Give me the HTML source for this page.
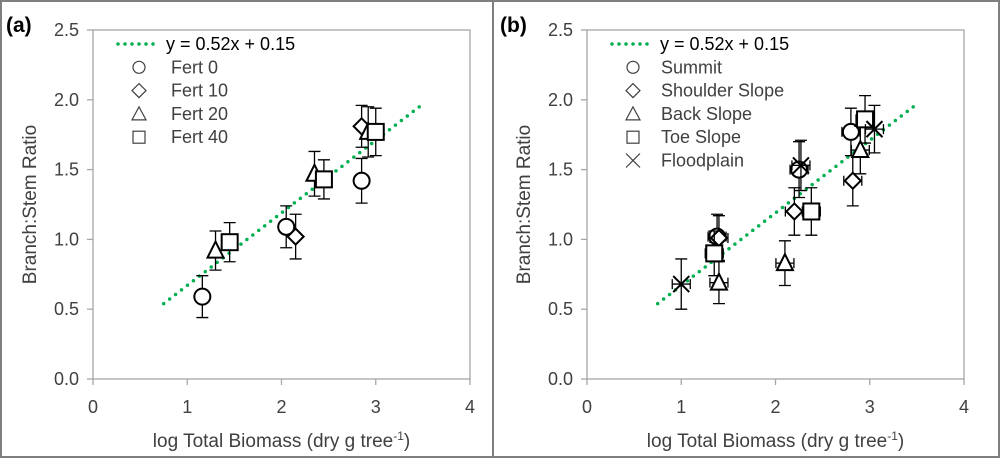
<!DOCTYPE html>
<html><head><meta charset="utf-8"><style>
body{margin:0;background:#fff;}
svg{display:block;font-family:"Liberation Sans",Arial,sans-serif;}
</style></head><body>
<svg id="chart" width="1000" height="458" xmlns="http://www.w3.org/2000/svg">
<rect x="1" y="1" width="998" height="456" fill="#fff" stroke="#7f7f7f" stroke-width="2"/>
<line x1="493" y1="0" x2="493" y2="458" stroke="#7f7f7f" stroke-width="2"/>
</svg>
<script>
const yTicks=[0,0.5,1.0,1.5,2.0,2.5];
const xTicks=[0,1,2,3,4];
const trendX=[0.75,3.47];
const slope=0.52, intercept=0.15;
const aNames=["Fert 0","Fert 10","Fert 20","Fert 40"];
const aShapes=["circle","diamond","triangle","square"];
const aX=[[1.16,2.05,2.85],[2.15,2.85],[1.3,2.35,2.92],[1.45,2.45,3.0]];
const aY=[[0.59,1.09,1.42],[1.02,1.81],[0.92,1.47,1.77],[0.98,1.43,1.77]];
const aErr=[[0.15,0.15,0.16],[0.16,0.15],[0.14,0.16,0.18],[0.14,0.14,0.17]];
const bNames=["Summit","Shoulder Slope","Back Slope","Toe Slope","Floodplain"];
const bShapes=["circle","diamond","triangle","square","x"];
const bX=[[1.38,2.25,2.8],[1.4,2.2,2.82],[1.4,2.1,2.9],[1.35,2.38,2.95],[1.0,2.27,3.05]];
const bY=[[1.02,1.50,1.77],[1.01,1.20,1.42],[0.69,0.83,1.64],[0.90,1.20,1.86],[0.68,1.53,1.79]];
const bErr=[[0.16,0.2,0.17],[0.16,0.17,0.18],[0.15,0.16,0.17],[0.16,0.17,0.17],[0.18,0.18,0.17]];
const NS="http://www.w3.org/2000/svg";
const svg=document.getElementById('chart');
function mk(t,a,p){const e=document.createElementNS(NS,t);for(const k in a)e.setAttribute(k,a[k]);(p||svg).appendChild(e);return e;}
function marker(g,shape,cx,cy){
  let e;
  const st={fill:"#fff",stroke:"#000","stroke-width":2};
  if(shape==="circle")e=mk('circle',Object.assign({cx:cx,cy:cy,r:8},st),g);
  else if(shape==="diamond")e=mk('polygon',Object.assign({points:`${cx},${cy-8} ${cx+8},${cy} ${cx},${cy+8} ${cx-8},${cy}`},st),g);
  else if(shape==="triangle")e=mk('polygon',Object.assign({points:`${cx},${cy-9} ${cx+8},${cy+7} ${cx-8},${cy+7}`},st),g);
  else if(shape==="square")e=mk('rect',Object.assign({x:cx-8,y:cy-8,width:16,height:16},st),g);
  else e=mk('path',{d:`M${cx-8},${cy-8}L${cx+8},${cy+8}M${cx+8},${cy-8}L${cx-8},${cy+8}`,stroke:"#000","stroke-width":2,fill:"none"},g);
  return e;
}
function legMarker(g,shape,cx,cy){
  const st={fill:"none",stroke:"#404040","stroke-width":1.2};
  if(shape==="circle")mk('circle',Object.assign({cx:cx,cy:cy,r:6},st),g);
  else if(shape==="diamond")mk('polygon',Object.assign({points:`${cx},${cy-7} ${cx+7},${cy} ${cx},${cy+7} ${cx-7},${cy}`},st),g);
  else if(shape==="triangle")mk('polygon',Object.assign({points:`${cx},${cy-7} ${cx+7},${cy+6} ${cx-7},${cy+6}`},st),g);
  else if(shape==="square")mk('rect',Object.assign({x:cx-6,y:cy-6,width:12,height:12},st),g);
  else mk('path',Object.assign({d:`M${cx-7},${cy-7}L${cx+7},${cy+7}M${cx+7},${cy-7}L${cx-7},${cy+7}`},st),g);
}
function panel(id,label,x0,names,shapes,X,Y,E,hErr){
  const x1=x0+377, yTop=30, yBot=379;
  const sx=v=>x0+(x1-x0)*v/4, sy=v=>yBot-(yBot-yTop)*v/2.5;
  const g=mk('g',{});
  
  
  const pl=mk('text',{x:x0-87,y:32,"font-size":21,"font-weight":"bold",fill:"#000"},g);pl.textContent=label;
  
  
  const fr=mk('rect',{x:x0,y:yTop,width:x1-x0,height:yBot-yTop,fill:"none",stroke:"#a6a6a6","stroke-width":1.3},g);
  
  
  yTicks.forEach(v=>{
    mk('line',{x1:x0-6,x2:x0,y1:sy(v),y2:sy(v),stroke:"#a6a6a6","stroke-width":1.3},g);
    const t=mk('text',{x:x0-14,y:sy(v)+6,"text-anchor":"end","font-size":18,fill:"#404040"},g);t.textContent=v.toFixed(1);
    
    
  });
  xTicks.forEach(v=>{
    mk('line',{x1:sx(v),x2:sx(v),y1:yBot,y2:yBot+6,stroke:"#a6a6a6","stroke-width":1.3},g);
    const t=mk('text',{x:sx(v),y:yBot+34,"text-anchor":"middle","font-size":18,fill:"#404040"},g);t.textContent=v;
    
    
  });
  const yt=mk('text',{transform:`translate(${x0-57},${(yTop+yBot)/2}) rotate(-90)`,"text-anchor":"middle","font-size":19,fill:"#404040"},g);
  yt.textContent="Branch:Stem Ratio";
  
  
  const xt=mk('text',{x:(x0+x1)/2,y:447,"text-anchor":"middle","font-size":19,fill:"#404040"},g);
  xt.innerHTML='log Total Biomass (dry g tree<tspan font-size="12" dy="-7">-1</tspan><tspan dy="7">)</tspan>';
  
  
  const tl=mk('line',{x1:sx(trendX[0]),y1:sy(slope*trendX[0]+intercept),x2:sx(trendX[1]),y2:sy(slope*trendX[1]+intercept),stroke:"#00b050","stroke-width":3.5,"stroke-dasharray":"0 7.5","stroke-linecap":"round"},g);
  
  
  X.forEach((xs,s)=>{
    const sg=mk('g',{},g);
    
    
    xs.forEach((xv,i)=>{
      const cx=sx(xv),cy=sy(Y[s][i]),e=E[s][i];
      const eb=mk('path',{d:`M${cx},${sy(Y[s][i]+e)}V${sy(Y[s][i]-e)}M${cx-6},${sy(Y[s][i]+e)}h12M${cx-6},${sy(Y[s][i]-e)}h12`+(hErr?`M${cx-9},${cy}h18M${cx-9},${cy-5}v10M${cx+9},${cy-5}v10`:''),stroke:"#000","stroke-width":1.3,fill:"none"},sg);
      
      
      const m=marker(sg,shapes[s],cx,cy);
      
      
    });
  });
  const lg=mk('g',{},g);
  
  
  const ly=44, step=23.3, lx=x0+25;
  mk('line',{x1:lx,x2:lx+42,y1:ly,y2:ly,stroke:"#00b050","stroke-width":3.5,"stroke-dasharray":"0 7","stroke-linecap":"round"},lg);
  const lt=mk('text',{x:lx+48,y:ly+6,"font-size":18,fill:"#000"},lg);lt.textContent="y = 0.52x + 0.15";
  
  
  names.forEach((n,i)=>{
    const yy=ly+step*(i+1);
    legMarker(lg,shapes[i],lx+21,yy);
    const t=mk('text',{x:lx+53+(id==='b'?-4:0),y:yy+6,"font-size":18,fill:"#404040"},lg);t.textContent=n;
    
    
  });
}
panel('a','(a)',93,aNames,aShapes,aX,aY,aErr,false);
panel('b','(b)',587,bNames,bShapes,bX,bY,bErr,true);
</script>
</body></html>
